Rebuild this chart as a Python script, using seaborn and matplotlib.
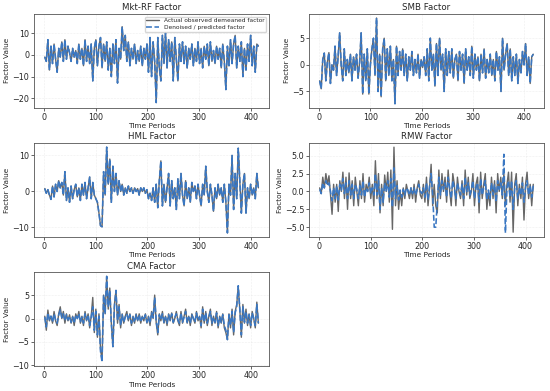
import numpy as np
import seaborn as sns
import matplotlib.pyplot as plt
from matplotlib.ticker import MultipleLocator

# values, one sample every 3 periods (1, 4, 7, ... 415)
mkt_actual = [-1, -3, 7, -7, 4, -4, 5, -2, -8, 3, -1, 6, -3, 7, -2, 4, 1, -3, 3, -1,
              2, -4, 5, -2, 3, -5, 7, -3, 4, -4, 5, -12, 3, 7, -5, 4, 8, -6, 5, -3,
              6, -7, 3, -10, 5, -4, 7, -13, 3, -2, 13, 2, 9, -3, 6, -5, 3, -2, 5, -4,
              2, -3, 4, -5, 3, -2, 5, -8, 8, -10, 6, -3, -22, 8, -6, -12, 9, -4, 10, -6,
              7, -3, 6, -12, 8, -2, -12, 5, -3, 6, -4, 4, -6, 3, -2, 5, -5, 3, -3, 6,
              -4, 3, -6, 4, -2, 5, -5, 6, -3, 2, -4, 4, -2, 3, -6, 5, -3, -16, 4, -5,
              7, -4, 5, 9, -6, 4, -3, 6, -10, 3, -7, 5, -3, 9, -5, 4, -8, 5, 4]
mkt_pred = list(mkt_actual)

smb_actual = [-3, -4.5, 1, 2.2, -3, 0.5, 2.3, -3.5, 0, -1, 3.5, -2, 1.5, 6, 0, -3, 3, -2, 1, -1.5,
              2, -3, 1.5, -1, 2, -2.5, 0.5, 6, -5.5, 2, -3, 3, -5.5, 0, 3, 5, -2, 8.8, -5, 2,
              -6, 3, 5, -3, 3, -2, 3.5, -3, 1, -7.3, 3.5, -2, 2.5, -1, 3, -2, 2, -3, 1.5, -1,
              2.5, -2, 1, -1.5, 2, -2.5, 1, -0.5, 1.5, -2, 3, -3, 5, -1, 2, -4, 4, -2, 5, -1,
              2, -5, 3, -2, 2.5, -1.5, 3, -2.5, 1, 2, -3, 2.5, -1, 2, -3.5, 3, -1, 1.5, -2, 3.5,
              -2.5, 2, -1, 1.5, -3, 2, -1.5, 3, -2.5, 1, -1.5, 2, -2, 1, -3, 2.5, -1, 1.5, -5, 5,
              -1, 2, 4, -2, 3, -3, 1.5, -2, 2, -3.5, 1, -1.5, 2.5, 0, 4, -2, 1.5, -3.5, 1.5, 2]
smb_pred = list(smb_actual)

hml_actual = [0.8, -0.5, 0.5, -1, -2.2, 1.5, -1.5, 2, 0, 3, 1, 2.5, -1, 5.5, -2.5, 1, -3, 1.5, -2, 0.5,
              2, -1.5, 1, -2.5, 2, -1, 2.5, -2, 1, 4, -2, 2.5, -1, -2, -3, -6, -9.5, -9.8, 5.5, -1,
              12.3, 2, 9, -3, 7, 0, 5, -1, 3, 0, 2, -1, 1, -0.5, 1.5, 0, 1, -0.5, 1, 0,
              0.8, -1, 1, 0, 1, -0.5, 0.5, -2, -0.5, -2.5, 1, -3, 2, -4.5, 3, 8.5, -4, 2, -3, 1,
              5, -4, 3, -2, 1, -5, 3.5, -2, 5, -1, -4, 3, -2, 1, -3, 2.5, 0, 1.5, -2, 2,
              -1, -4, 2, -1, 7, 0, -3, 2, -1, -5.5, 1, -2, 2, -1, 1, -3, 2, -3, -11.5, 2,
              -1, 10, -5, 5, -2, 12, 3, -6, 2, 5, -6, 1, -2, 2, -1, 1, -2, 5, 1]
hml_pred = list(hml_actual)

rmw_actual = [0.5, -0.3, 2, 0.5, 2.5, 1, 2.2, -0.5, -3.2, 1, -1.5, 1, -2.8, 1.5, 0, 2.7, -1, 2, -2.5, 2.6,
              -1, 1.5, -2, 2, 0, -2, 1.5, -1, 2.5, -1.5, 1, 0, 2, -1, 1, -2, 4.3, -1, 2.5, -3,
              1, -2, 2.3, 0, 2.7, -1.5, 3, -5.3, 6.2, -2, 1.5, -2.5, 0, -2, 0.5, -1, 1, 0, -1, 0.5,
              -1, 1, -1.5, 0.5, 1.5, -0.5, -1, 1, -1.5, 2, -2, 0.5, 3.8, -2, 1, -2, -3, 3, -1, 2.5,
              0, 2, -1.5, 3, 0, -2, 2.5, 1, -2, 2, 0, -1, 1.5, -2, 3, -0.5, 2, -1, 0, 2.5,
              -2, 1, 2, -3, 2.7, -1, 1, 2.5, -2.5, 0, -2, 2, -1, 1.5, -3, 2.5, 0, 2, -1, 2.5,
              -2, 1, 2.7, -1.5, 2.7, -5.7, 1, 2.5, -2, 1, -1, 2, -4, 1, 2.7, -1, 1, -2, 1]
rmw_pred = [0.3, -0.3, 1.2, 0.5, 1.5, 0.8, 1.2, 0, -1.3, 0.5, -1, 0.8, -1.2, 1, 0.2, 1.8, -0.3, 1.2, -1, 1.5,
            -0.5, 1, -1, 1, 0.3, -1, 0.8, -0.5, 1.5, -0.8, 0.5, 0, 1.2, -0.3, 0.5, -0.5, 2.5, -0.5, 1.5, -2.5,
            0.5, -1.5, 1.2, 0, 1.5, -0.8, 1.8, -2.2, 3.3, -1, 0.8, -1.2, 0.2, -0.8, 0.3, -0.5, 0.5, 0.2, -0.5, 0.5,
            -0.3, 0.5, -0.5, 0.3, 1, 0, -0.3, 0.5, -0.8, 1.2, -1.2, 0.8, 2.5, -0.5, -5, -5, -1.5, 2, -0.5, 1.5,
            0.3, 1.2, -0.8, 2, 0.5, -1, 1.5, 0.5, -1, 1.2, 0.2, -0.5, 1, -1, 2, 0, 1.2, -0.5, 0.3, 1.5,
            -1, 0.5, 1.2, -1.5, 1.8, -0.5, 0.5, 1.5, -1.2, 0.2, -1, 1.2, -0.5, 1, -1.5, 1.5, 0.3, 1.2, -0.5, 5.2,
            -5.8, 0.5, 1.5, -0.8, 1.5, -2.5, 0.5, 1.5, -1, 0.5, -0.5, 1.2, -1.5, 0.5, 1.5, -0.5, 0.8, -0.8, 0.8]

cma_actual = [0.5, -2.5, 1.8, -0.5, 0.5, -1, 1.5, -0.5, -1.5, 1, 2.5, 0, 1.5, -1, 1, -0.5, 0.8, -1, 0.5, -1.5,
              1, 0, 1.5, -1, 0.5, -1.5, 1.5, -0.5, 1, -2, 0.5, 4.5, -3, 2, -4, 1, -6.5, -9, 5, 1,
              9, 2, 6.5, -1, -6, 3, 6, -1, 3, -2, 1, -1, 0.5, 1.5, -0.5, 1, -1.5, 0.5, -1, 1,
              -0.5, 1, -1, 0.5, -0.5, 1, -1, 0.5, -1.5, 1.5, 0, 5, -1, -3.5, 1, -0.5, 1.5, -1, 0.5, -1.5,
              1, -0.5, 1.2, -1, 0, 1.5, -0.5, -1.5, 1.5, -1, 0.5, 2, -1, 0.5, -1.5, 1, 0, -1, 1.5, -0.5,
              0.5, -2, 2.5, -1, 1.5, -1.5, 0.5, 2, -1.5, 0.5, -1, 1.5, -2, 0.5, -1, 1, -2, -3, -4.5, 1,
              -2, 2, -3.5, 1.5, 3, 6.8, 2, -4, 3, -1, 2, -1.5, 1, -2, 1.5, 0, -2, 3.5, -1]
cma_pred = [0.3, -1.8, 1.2, -0.3, 0.5, -0.8, 1, -0.3, -1, 0.8, 1.8, 0.2, 1, -0.5, 0.8, -0.3, 0.5, -0.8, 0.3, -1,
            0.8, 0, 1, -0.8, 0.3, -1, 1, -0.3, 0.8, -1.5, 0.3, 2.5, -2.5, 1.5, -3.5, 0.5, -7, -9.3, 5, 1,
            9, 2.5, 6, -1, -6, 2.5, 6, -0.5, 2.5, -1.5, 0.8, -0.8, 0.3, 1, -0.3, 0.8, -1, 0.3, -0.8, 0.8,
            -0.3, 0.8, -0.8, 0.3, -0.3, 0.8, -0.8, 0.3, -1, 1.2, 0.2, 4.5, -0.5, -3, 0.8, -0.3, 1, -0.8, 0.3, -1,
            0.8, -0.3, 1, -0.8, 0.2, 1, -0.3, -1, 1.2, -0.8, 0.3, 1.5, -0.8, 0.3, -1, 0.8, 0, -0.8, 1.2, -0.3,
            0.3, -1.5, 2, -0.8, 1.2, -1, 0.3, 1.5, -1, 0.3, -0.8, 1.2, -1.5, 0.3, -0.8, 0.8, -1.5, -2.5, -4.5, 0.8,
            -1.5, 1.5, -3, 1.2, 2.5, 7, 2, -3.5, 2.5, -0.8, 1.5, -1, 0.8, -1.5, 1.2, 0, -1.5, 3, -1]

factors = [("Mkt-RF Factor", mkt_actual, mkt_pred),
           ("SMB Factor", smb_actual, smb_pred),
           ("HML Factor", hml_actual, hml_pred),
           ("RMW Factor", rmw_actual, rmw_pred),
           ("CMA Factor", cma_actual, cma_pred)]

sns.set_style("ticks")
plt.rcParams['font.family'] = ['DejaVu Sans']

fig, axes = plt.subplots(3, 2, figsize=(5.5, 3.91), dpi=100)
fig.subplots_adjust(left=0.062, right=0.989, top=0.965, bottom=0.063, hspace=0.37, wspace=0.17)
axes = axes.flatten()

for ax, (name, actual, pred) in zip(axes, factors):
    t_act = np.arange(len(actual)) * 3 + 1
    t_pred = np.arange(len(pred)) * 3 + 1
    sns.lineplot(x=t_act, y=actual, ax=ax, color='#666666', linewidth=1.0,
                 label='Actual observed demeaned factor')
    sns.lineplot(x=t_pred, y=pred, ax=ax, color='#3a77c2', linewidth=1.15, linestyle='--',
                 label='Denoised / predicted factor')
    ax.set_title(name, fontsize=6.2, pad=2.5)
    ax.set_xlabel('Time Periods', fontsize=5.3, labelpad=1)
    ax.set_ylabel('Factor Value', fontsize=5.3, labelpad=1.5)
    ax.tick_params(labelsize=5.8, length=2, width=0.5, pad=1.5)
    ax.set_xticks([0, 100, 200, 300, 400])
    ax.grid(True, linestyle=':', linewidth=0.4, alpha=0.6)
    for s in ax.spines.values():
        s.set_linewidth(0.6)
        s.set_color('#555555')
    if name == "RMW Factor":
        ax.yaxis.set_major_locator(MultipleLocator(2.5))
    if name == "Mkt-RF Factor":
        ax.set_ylim(-24.5, 19)
        ax.legend(loc='upper right', fontsize=4.2, frameon=True, borderpad=0.3,
                  handlelength=2.2, labelspacing=0.3, framealpha=0.8)
    else:
        ax.get_legend().remove()

axes[5].remove()

plt.savefig('out.png', dpi=100)
